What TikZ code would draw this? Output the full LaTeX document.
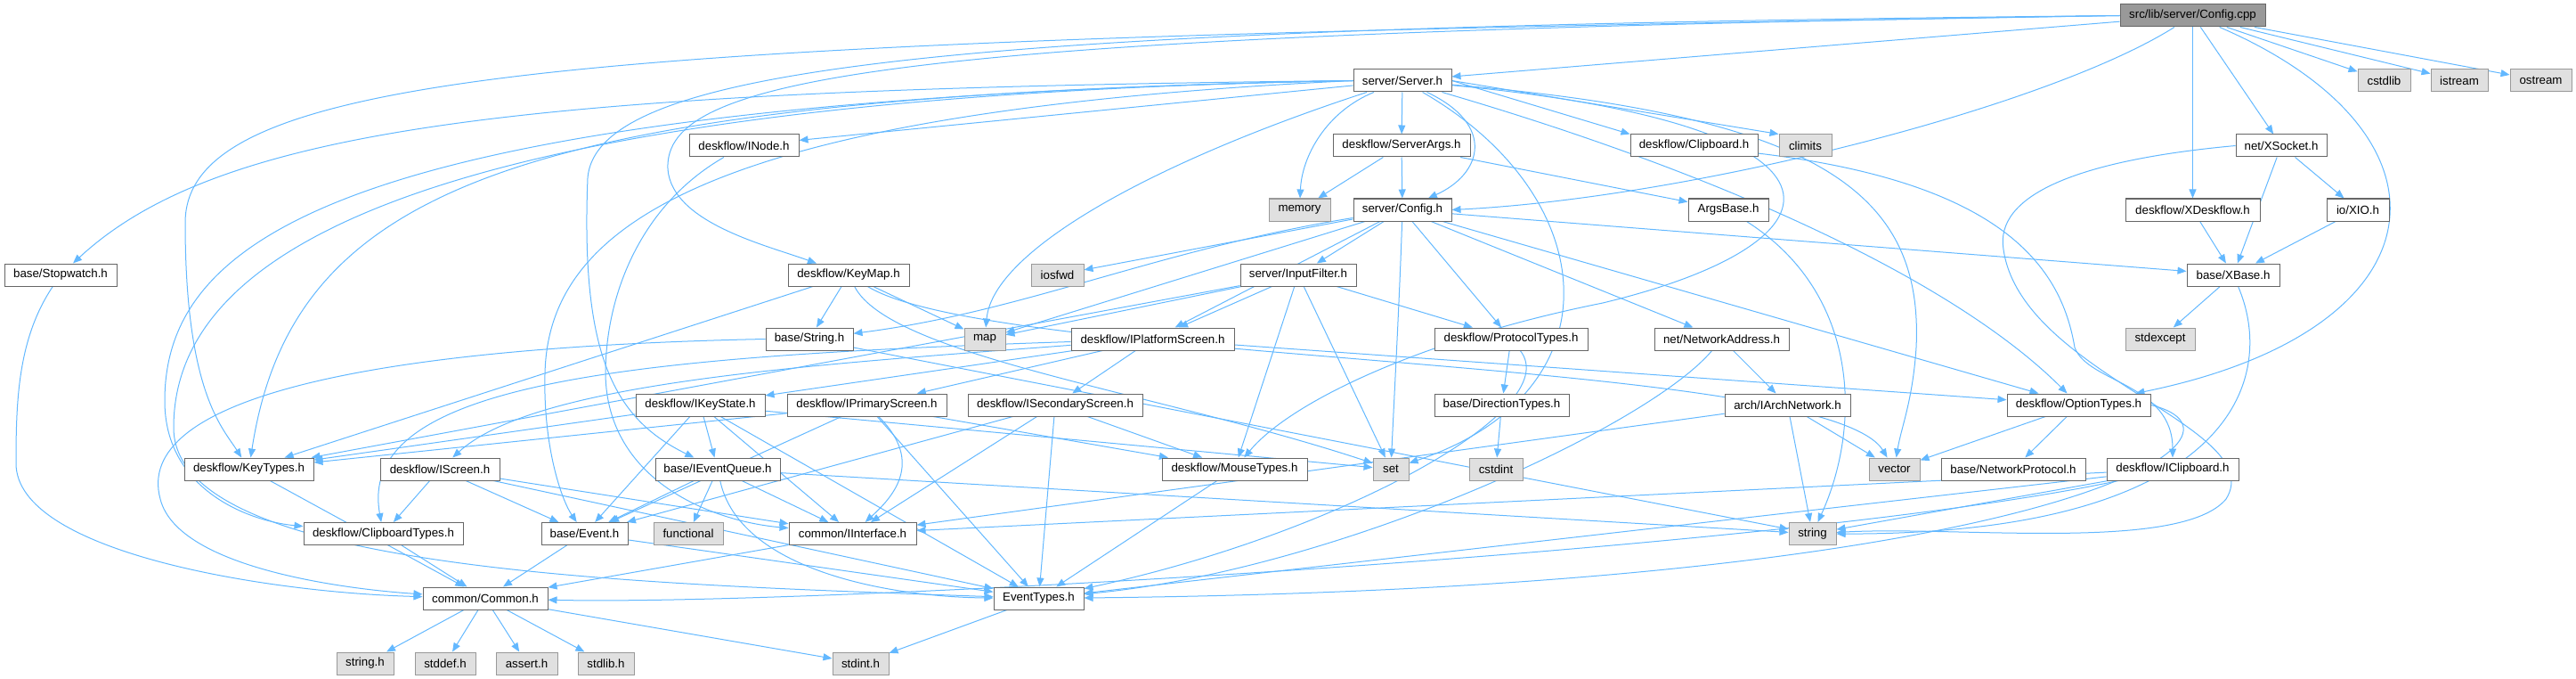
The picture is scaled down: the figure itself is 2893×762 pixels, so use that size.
\documentclass[tikz,border=0pt]{standalone}
\usepackage{fontspec}
\setmainfont{Liberation Sans}
\usetikzlibrary{arrows.meta,backgrounds}
\definecolor{edgec}{HTML}{63B8FF}
\definecolor{bd}{HTML}{666666}
\definecolor{sysf}{HTML}{E0E0E0}
\definecolor{sysb}{HTML}{999999}
\definecolor{rootf}{HTML}{999999}
\tikzset{
  nb/.style={draw=bd, fill=white, line width=1pt, minimum height=25pt, inner sep=0pt, font=\fontsize{13.3}{15}\selectfont, text=black},
  sb/.style={nb, draw=sysb, fill=sysf},
  rb/.style={nb, draw=bd, fill=rootf},
  e/.style={draw=edgec, line width=1pt, -{Triangle[length=10pt,width=8pt]}}
}
\begin{document}
\begin{tikzpicture}[x=1pt,y=-1pt]
\useasboundingbox (0,0) rectangle (2893,762);
% row 0
\node[rb, minimum width=163] (cpp) at (2462.5,17.5) {src/lib/server/Config.cpp};
% row 1
\node[nb, minimum width=110] (server) at (1575,90.5) {server/Server.h};
\node[sb, minimum width=59] (cstdlib) at (2677.5,90.5) {cstdlib};
\node[sb, minimum width=64] (istream) at (2762,90.5) {istream};
\node[sb, minimum width=69] (ostream) at (2853.5,90.5) {ostream};
% row 2
\node[nb, minimum width=123] (inode) at (835.5,163.5) {deskflow/INode.h};
\node[nb, minimum width=154] (serverargs) at (1574,163.5) {deskflow/ServerArgs.h};
\node[nb, minimum width=143] (clipboard) at (1902.5,163.5) {deskflow/Clipboard.h};
\node[sb, minimum width=59] (climits) at (2027.5,163.5) {climits};
\node[nb, minimum width=102] (xsocket) at (2562,163.5) {net/XSocket.h};
% row 3
\node[sb, minimum width=69] (memory) at (1459.5,235.5) {memory};
\node[nb, minimum width=110] (config) at (1575,235.5) {server/Config.h};
\node[nb, minimum width=90] (argsbase) at (1941,235.5) {ArgsBase.h};
\node[nb, minimum width=151] (xdeskflow) at (2462.5,235.5) {deskflow/XDeskflow.h};
\node[nb, minimum width=70] (xio) at (2648,235.5) {io/XIO.h};
% row 4
\node[nb, minimum width=126] (stopwatch) at (68,308.5) {base/Stopwatch.h};
\node[nb, minimum width=136] (keymap) at (953,308.5) {deskflow/KeyMap.h};
\node[sb, minimum width=59] (iosfwd) at (1187.5,308.5) {iosfwd};
\node[nb, minimum width=130] (inputfilter) at (1458,308.5) {server/InputFilter.h};
\node[nb, minimum width=104] (xbase) at (2508,308.5) {base/XBase.h};
% row 5
\node[nb, minimum width=98] (strh) at (909,380.5) {base/String.h};
\node[sb, minimum width=46] (smap) at (1106,380.5) {map};
\node[nb, minimum width=183] (iplatform) at (1294.5,380.5) {deskflow/IPlatformScreen.h};
\node[nb, minimum width=172] (protocol) at (1697,380.5) {deskflow/ProtocolTypes.h};
\node[nb, minimum width=151] (netaddr) at (1933.5,380.5) {net/NetworkAddress.h};
\node[sb, minimum width=78] (stdexcept) at (2426,380.5) {stdexcept};
% row 6
\node[nb, minimum width=145] (ikeystate) at (786.5,454.5) {deskflow/IKeyState.h};
\node[nb, minimum width=179] (iprimary) at (973.5,454.5) {deskflow/IPrimaryScreen.h};
\node[nb, minimum width=196] (isecondary) at (1185,454.5) {deskflow/ISecondaryScreen.h};
\node[nb, minimum width=151] (direction) at (1686.5,454.5) {base/DirectionTypes.h};
\node[nb, minimum width=141] (iarchnet) at (2007.5,454.5) {arch/IArchNetwork.h};
\node[nb, minimum width=161] (optiontypes) at (2334.5,454.5) {deskflow/OptionTypes.h};
% row 7
\node[nb, minimum width=145] (keytypes) at (279.5,526.5) {deskflow/KeyTypes.h};
\node[nb, minimum width=134] (iscreen) at (494,526.5) {deskflow/IScreen.h};
\node[nb, minimum width=140] (ieventqueue) at (806,526.5) {base/IEventQueue.h};
\node[nb, minimum width=163] (mousetypes) at (1386.5,526.5) {deskflow/MouseTypes.h};
\node[sb, minimum width=40] (sset) at (1562,526.5) {set};
\node[sb, minimum width=60] (cstdint) at (1680,526.5) {cstdint};
\node[sb, minimum width=57] (svector) at (2127.5,526.5) {vector};
\node[nb, minimum width=162] (netproto) at (2261,526.5) {base/NetworkProtocol.h};
\node[nb, minimum width=148] (iclipboard) at (2440,526.5) {deskflow/IClipboard.h};
% row 8
\node[nb, minimum width=179] (cliptypes) at (430.5,599) {deskflow/ClipboardTypes.h};
\node[nb, minimum width=97] (event) at (656.5,599) {base/Event.h};
\node[sb, minimum width=78] (functional) at (773,599) {functional};
\node[nb, minimum width=143] (iinterface) at (957.5,599) {common/IInterface.h};
\node[sb, minimum width=53] (sstring) at (2035.5,599) {string};
% row 9
\node[nb, minimum width=140] (common) at (545,671.5) {common/Common.h};
\node[nb, minimum width=101] (eventtypes) at (1166.5,671.5) {EventTypes.h};
% row 10
\node[sb, minimum width=64] (stringh) at (410,744.5) {string.h};
\node[sb, minimum width=68] (stddef) at (500,744.5) {stddef.h};
\node[sb, minimum width=69] (sassert) at (591.5,744.5) {assert.h};
\node[sb, minimum width=63] (stdlibh) at (680.5,744.5) {stdlib.h};
\node[sb, minimum width=63] (stdinth) at (966.5,744.5) {stdint.h};

\begin{pgfonlayer}{background}
% Config.cpp
\draw[e] (cpp) -- (server);
\draw[e] (cpp) .. controls (2300,120) and (1900,222) .. (config.east);
\draw[e] (cpp) -- (xdeskflow);
\draw[e] (cpp) -- (xsocket);
\draw[e] (cpp) .. controls (2770,150) and (2750,370) .. (optiontypes);
\draw[e] (cpp) -- (cstdlib);
\draw[e] (cpp) -- (istream);
\draw[e] (cpp) -- (ostream);
\draw[e] (cpp.west) .. controls (1000,38) and (745,85) .. (750,190) .. controls (755,250) and (860,275) .. (keymap);
\draw[e] (cpp.west) .. controls (700,45) and (208,70) .. (208,250) .. controls (208,440) and (250,480) .. (keytypes);
\draw[e] (cpp.west) .. controls (1100,30) and (670,70) .. (660,200) .. controls (652,400) and (690,470) .. (ieventqueue);
% Server.h
\draw[e] (server.west) .. controls (600,100) and (250,140) .. (stopwatch);
\draw[e] (server) -- (inode);
\draw[e] (server) -- (serverargs);
\draw[e] (server) .. controls (1680,140) and (1665,195) .. (config);
\draw[e] (server) .. controls (1490,125) and (1462,175) .. (memory);
\draw[e] (server.east) -- (clipboard.north west);
\draw[e] (server.east) -- (climits.north west);
\draw[e] (server) .. controls (1300,180) and (1115,280) .. (smap);
\draw[e] (server) .. controls (1800,220) and (1820,440) .. (sset);
\draw[e] (server) .. controls (2050,130) and (2160,220) .. (2152,390) .. controls (2148,450) and (2135,480) .. (svector);
\draw[e] (server) .. controls (1950,200) and (2200,320) .. (optiontypes);
\draw[e] (server) .. controls (2100,140) and (2090,270) .. (1800,340) .. controls (1600,380) and (1450,450) .. (mousetypes);
\draw[e] (server.west) .. controls (600,108) and (330,200) .. (keytypes);
\draw[e] (server.west) .. controls (400,112) and (185,260) .. (185,450) .. controls (185,550) and (280,585) .. (cliptypes);
\draw[e] (server.west) .. controls (800,125) and (615,250) .. (612,420) .. controls (610,500) and (630,560) .. (event);
\draw[e] (server.west) .. controls (420,110) and (195,300) .. (195,480) .. controls (195,640) and (700,655) .. (eventtypes);
% ServerArgs.h
\draw[e] (serverargs) -- (memory);
\draw[e] (serverargs) -- (config);
\draw[e] (serverargs) -- (argsbase);
% Config.h
\draw[e] (config) -- (inputfilter);
\draw[e] (config) -- (iplatform);
\draw[e] (config) -- (protocol);
\draw[e] (config) -- (netaddr);
\draw[e] (config) -- (xbase);
\draw[e] (config) -- (optiontypes);
\draw[e] (config) .. controls (1300,280) and (1150,350) .. (strh);
\draw[e] (config) -- (smap);
\draw[e] (config) -- (iosfwd);
\draw[e] (config) .. controls (1572,330) and (1566,440) .. (sset);
% InputFilter.h
\draw[e] (inputfilter) -- (smap);
\draw[e] (inputfilter) -- (sset);
\draw[e] (inputfilter) -- (mousetypes);
\draw[e] (inputfilter) -- (protocol);
\draw[e] (inputfilter) -- (iplatform);
\draw[e] (inputfilter) -- (keytypes);
% KeyMap.h
\draw[e] (keymap) -- (strh);
\draw[e] (keymap) -- (smap);
\draw[e] (keymap) .. controls (1000,400) and (1300,440) .. (sset);
\draw[e] (keymap) .. controls (1120,410) and (2050,400) .. (svector);
\draw[e] (keymap) -- (keytypes);
% IPlatformScreen.h
\draw[e] (iplatform) -- (ikeystate);
\draw[e] (iplatform) -- (iprimary);
\draw[e] (iplatform) -- (isecondary);
\draw[e] (iplatform) .. controls (900,410) and (600,430) .. (iscreen);
\draw[e] (iplatform) .. controls (700,400) and (400,430) .. (cliptypes);
\draw[e] (iplatform) -- (optiontypes);
% IKeyState.h
\draw[e] (ikeystate) -- (keytypes);
\draw[e] (ikeystate) -- (ieventqueue);
\draw[e] (ikeystate) -- (iinterface);
\draw[e] (ikeystate) -- (event);
\draw[e] (ikeystate) -- (eventtypes);
\draw[e] (ikeystate) -- (sset);
% IPrimaryScreen.h
\draw[e] (iprimary) -- (keytypes);
\draw[e] (iprimary) -- (mousetypes);
\draw[e] (iprimary) -- (event);
\draw[e] (iprimary) .. controls (1040,520) and (1000,560) .. (iinterface);
\draw[e] (iprimary) -- (eventtypes);
% ISecondaryScreen.h
\draw[e] (isecondary) -- (mousetypes);
\draw[e] (isecondary) -- (event);
\draw[e] (isecondary) -- (iinterface);
\draw[e] (isecondary) -- (eventtypes);
% IScreen.h
\draw[e] (iscreen) -- (cliptypes);
\draw[e] (iscreen) -- (event);
\draw[e] (iscreen) -- (iinterface);
\draw[e] (iscreen) -- (eventtypes);
% IEventQueue.h
\draw[e] (ieventqueue) -- (event);
\draw[e] (ieventqueue) -- (iinterface);
\draw[e] (ieventqueue) -- (functional);
\draw[e] (ieventqueue) .. controls (830,640) and (1000,670) .. (eventtypes);
\draw[e] (ieventqueue) -- (sstring);
% misc
\draw[e] (mousetypes) -- (eventtypes);
\draw[e] (protocol) -- (direction);
\draw[e] (protocol) .. controls (1760,460) and (1500,600) .. (eventtypes);
\draw[e] (direction) -- (cstdint);
\draw[e] (netaddr) -- (iarchnet);
\draw[e] (netaddr) .. controls (1850,480) and (1500,640) .. (eventtypes);
\draw[e] (iarchnet) -- (sstring);
\draw[e] (iarchnet) -- (svector);
\draw[e] (iarchnet) -- (iinterface);
\draw[e] (xbase) -- (stdexcept);
\draw[e] (xbase) .. controls (2560,430) and (2500,600) .. (sstring);
\draw[e] (xsocket) -- (xbase);
\draw[e] (xsocket) -- (xio);
\draw[e] (xsocket.west) .. controls (2330,180) and (2240,220) .. (2250,280) .. controls (2270,420) and (2550,480) .. (2500,560) .. controls (2450,620) and (2200,590) .. (sstring);
\draw[e] (xio) -- (xbase);
\draw[e] (xdeskflow) -- (xbase);
\draw[e] (optiontypes) -- (svector);
\draw[e] (optiontypes) -- (netproto);
\draw[e] (optiontypes.east) .. controls (2560,490) and (2300,660) .. (eventtypes);
\draw[e] (clipboard) .. controls (2250,205) and (2315,300) .. (2330,390) .. controls (2345,430) and (2440,430) .. (iclipboard);
\draw[e] (iclipboard) -- (iinterface);
\draw[e] (iclipboard) -- (sstring);
\draw[e] (iclipboard) -- (eventtypes);
\draw[e] (iclipboard) .. controls (2000,620) and (900,680) .. (common);
\draw[e] (argsbase) .. controls (2090,330) and (2090,480) .. (sstring);
\draw[e] (inode) .. controls (720,230) and (680,330) .. (680,420) .. controls (682,540) and (800,585) .. (iinterface);
\draw[e] (stopwatch) .. controls (20,380) and (18,450) .. (18,520) .. controls (18,620) and (300,665) .. (common);
\draw[e] (strh.west) .. controls (400,390) and (150,450) .. (180,560) .. controls (200,640) and (400,662) .. (common);
\draw[e] (strh) -- (sstring);
\draw[e] (keytypes) -- (common);
\draw[e] (cliptypes) -- (common);
\draw[e] (event) -- (common);
\draw[e] (event) -- (eventtypes);
\draw[e] (iinterface) -- (common);
\draw[e] (eventtypes) -- (stdinth);
\draw[e] (common) -- (stringh);
\draw[e] (common) -- (stddef);
\draw[e] (common) -- (sassert);
\draw[e] (common) -- (stdlibh);
\draw[e] (common) -- (stdinth);
\end{pgfonlayer}
\end{tikzpicture}
\end{document}
